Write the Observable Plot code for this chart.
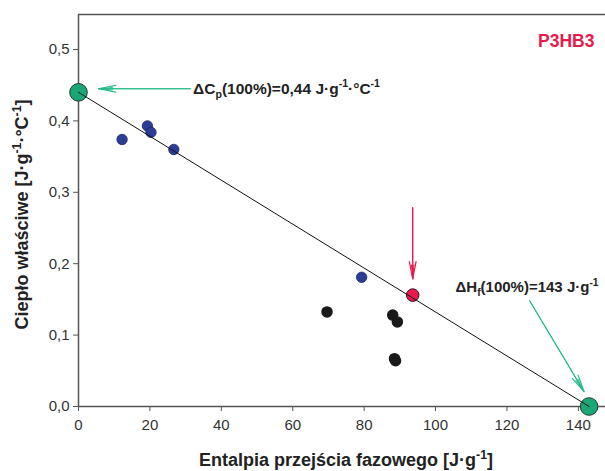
<!DOCTYPE html>
<html><head><meta charset="utf-8">
<script src="https://cdn.jsdelivr.net/npm/d3@7"></script>
<script src="https://cdn.jsdelivr.net/npm/@observablehq/plot@0.6"></script>
<style>body{margin:0;background:#fff}</style>
</head><body><div id="chart"></div>
<script>
const xTicks = [0, 20, 40, 60, 80, 100, 120, 140];
const yTicks = [0, 0.1, 0.2, 0.3, 0.4, 0.5];

const blueX = [12.2, 19.3, 20.3, 26.7, 79.3];
const blueY = [0.374, 0.393, 0.384, 0.360, 0.181];
const blackX = [69.6, 88.0, 89.3, 88.5, 88.8];
const blackY = [0.1325, 0.128, 0.1185, 0.067, 0.064];
const redX = [93.6];
const redY = [0.156];
const greenX = [0, 143];
const greenY = [0.44, 0];

const fitX = [0, 143];
const fitY = [0.44, 0];

const labelCp = [{t: "\u0394C"}, {t: "p", s: "sub"}, {t: "(100%)=0,44 J\u00b7g"}, {t: "-1", s: "sup"}, {t: "\u00b7\u00b0C"}, {t: "-1", s: "sup"}];
const labelHf = [{t: "\u0394H"}, {t: "f", s: "sub"}, {t: "(100%)=143 J\u00b7g"}, {t: "-1", s: "sup"}];
const labelX = [{t: "Entalpia przej\u015bcia fazowego [J\u00b7g"}, {t: "-1", s: "sup"}, {t: "]"}];
const labelY = [{t: "Ciep\u0142o w\u0142a\u015bciwe [J\u00b7g"}, {t: "-1", s: "sup"}, {t: "\u00b7\u00b0C"}, {t: "-1", s: "sup"}, {t: "]"}];
const sampleName = "P3HB3";

const plain = segs => segs.map(s => s.t).join("");
const pts = (xs, ys) => xs.map((x, i) => ({x, y: ys[i]}));

const font = "'Liberation Sans', Arial, sans-serif";
const yMax = 0.549;
const axisColor = "#555";
const green = "#1aa776", greenArrow = "#27bd8a", red = "#e8194b", blue = "#2c3d96";

const arrows = [
  {x1: 31.3, y1: 0.445, x2: 5.6, y2: 0.445, c: greenArrow},
  {x1: 93.6, y1: 0.2784, x2: 93.6, y2: 0.1786, c: red},
  {x1: 126.4, y1: 0.1478, x2: 141.6, y2: 0.0207, c: greenArrow}
];

const chart = Plot.plot({
  width: 605, height: 471,
  marginLeft: 78, marginRight: 0, marginTop: 14, marginBottom: 65,
  style: {fontFamily: font, fontSize: "15px", color: "#333", background: "#fff"},
  x: {domain: [0, 147.6]},
  y: {domain: [0, yMax]},
  marks: [
    Plot.axisX({ticks: xTicks, tickSize: 5, tickPadding: 8, stroke: axisColor, label: null, tickFormat: d => String(d)}),
    Plot.axisY({ticks: yTicks, tickSize: 5, tickPadding: 4, stroke: axisColor, label: null, tickFormat: d => d.toFixed(1).replace(".", ",")}),
    Plot.ruleY([0, yMax], {stroke: axisColor, strokeWidth: 1.5}),
    Plot.ruleX([0], {stroke: axisColor, strokeWidth: 1.5}),
    Plot.arrow(arrows, {x1: "x1", y1: "y1", x2: "x2", y2: "y2", stroke: "c", strokeWidth: 1.2, headLength: 22, headAngle: 22}),
    Plot.arrow(arrows, {x1: "x1", y1: "y1", x2: "x2", y2: "y2", stroke: "c", strokeWidth: 1, headLength: 21, headAngle: 10}),
    Plot.dot(pts(blackX, blackY), {x: "x", y: "y", r: 5, fill: "#1a1a1a", stroke: "#1a1a1a"}),
    Plot.dot(pts(blueX, blueY), {x: "x", y: "y", r: 5.2, fill: blue, stroke: "#1c2560", strokeWidth: 0.8}),
    Plot.dot(pts(redX, redY), {x: "x", y: "y", r: 6.3, fill: red, stroke: "#3a1020", strokeWidth: 1}),
    Plot.dot(pts(greenX, greenY), {x: "x", y: "y", r: 8.8, fill: green, stroke: "#1e3a2e", strokeWidth: 1}),
    Plot.line(pts(fitX, fitY), {x: "x", y: "y", stroke: "#111", strokeWidth: 1}),
    Plot.text([plain(labelCp)], {x: 32.1, y: 0.445, textAnchor: "start", lineAnchor: "middle", fontSize: 15.5, fontWeight: "bold", fill: "#222"}),
    Plot.text([plain(labelHf)], {x: 105.6, y: 0.167, textAnchor: "start", lineAnchor: "middle", fontSize: 15, fontWeight: "bold", fill: "#222"}),
    Plot.text([sampleName], {x: 144.5, y: 0.512, textAnchor: "end", lineAnchor: "middle", fontSize: 17.5, fontWeight: "bold", fill: red}),
    Plot.text([plain(labelX)], {frameAnchor: "bottom", textAnchor: "middle", dx: 4, dy: 54, lineAnchor: "middle", fontSize: 18, fontWeight: "bold", fill: "#222"}),
    Plot.text([plain(labelY)], {frameAnchor: "left", textAnchor: "middle", rotate: -90, dx: -56, dy: 4, lineAnchor: "middle", fontSize: 18, fontWeight: "bold", fill: "#222"})
  ]
});

function rich(svg, segs, fs) {
  const key = plain(segs);
  svg.querySelectorAll("text").forEach(t => {
    if (t.textContent !== key) return;
    t.textContent = "";
    let shift = 0;
    for (const s of segs) {
      const ts = document.createElementNS("http://www.w3.org/2000/svg", "tspan");
      const target = s.s === "sup" ? -0.42 * fs : s.s === "sub" ? 0.28 * fs : 0;
      ts.setAttribute("dy", target - shift);
      shift = target;
      if (s.s) ts.setAttribute("font-size", 0.68 * fs);
      ts.textContent = s.t;
      t.appendChild(ts);
    }
  });
}
rich(chart, labelCp, 15.5);
rich(chart, labelHf, 15);
rich(chart, labelX, 18);
rich(chart, labelY, 18);

document.getElementById("chart").appendChild(chart);
</script>
</body></html>
